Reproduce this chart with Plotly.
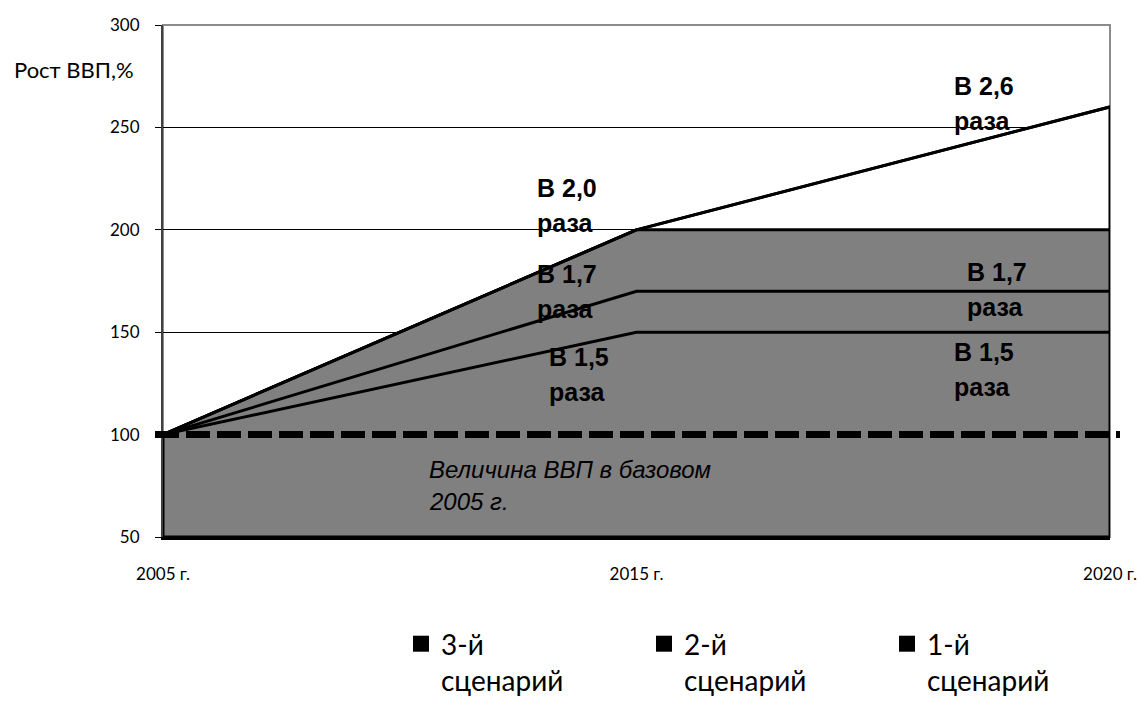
import plotly.graph_objects as go

# ---- data ----
years = ["2005 г.", "2015 г.", "2020 г."]
scenario3 = [100, 200, 260]
scenario2 = [100, 170, 170]
scenario1 = [100, 150, 150]
shaded_top = [100, 200, 200]
base_level = 100
y_ticks = [50, 100, 150, 200, 250, 300]
legend_names = ["3-й<br>сценарий", "2-й<br>сценарий", "1-й<br>сценарий"]
y_title = "Рост ВВП,%"
base_note = ["Величина ВВП в базовом", "2005 г."]

Y_MIN, Y_MAX = 50, 300

# plot-area pixel geometry (for placing free text)
L, R, T, B = 163, 1110, 25, 537
W, H = R - L, B - T


def px(x):
    return (x - L) / W


def py(y):
    return (B - y) / H


def ratio_txt(v):
    return "В " + f"{v / base_level:.1f}".replace(".", ",")


fig = go.Figure()

# scenario 3 area (white, outlined)
fig.add_trace(go.Scatter(
    x=years + [years[-1], years[0], years[0]],
    y=scenario3 + [Y_MIN, Y_MIN, scenario3[0]],
    fill="toself", fillcolor="white", mode="lines",
    line=dict(color="black", width=3), showlegend=False, hoverinfo="skip"))

# shaded gray area
fig.add_trace(go.Scatter(
    x=years + [years[-1], years[0], years[0]],
    y=shaded_top + [Y_MIN, Y_MIN, shaded_top[0]],
    fill="toself", fillcolor="#808080", mode="lines",
    line=dict(color="black", width=3), showlegend=False, hoverinfo="skip"))

# scenario lines
for s in (scenario3, scenario2, scenario1):
    fig.add_trace(go.Scatter(x=years, y=s, mode="lines",
                             line=dict(color="black", width=3),
                             showlegend=False))

# legend entries
for nm in legend_names:
    fig.add_trace(go.Scatter(x=[None], y=[None], mode="markers", name=nm,
                             marker=dict(symbol="square", size=16, color="black")))

# base-level dashed line
fig.add_shape(type="line", xref="paper", yref="y",
              x0=px(155), x1=px(1120), y0=base_level, y1=base_level,
              line=dict(color="black", width=7, dash="24px,7px"), layer="above")

# frame (gray)
fig.add_shape(type="rect", xref="paper", yref="paper", x0=0, x1=1, y0=0, y1=1,
              line=dict(color="#8c8c8c", width=2), layer="between")

# ratio labels
label_font = dict(family="Liberation Sans", size=25, color="black", weight="bold")
labels = [
    (ratio_txt(scenario3[2]), 952, 86),
    (ratio_txt(scenario3[1]), 535, 188),
    (ratio_txt(scenario2[1]), 535, 274),
    (ratio_txt(scenario1[1]), 547, 357),
    (ratio_txt(scenario2[2]), 965, 272),
    (ratio_txt(scenario1[2]), 952, 352),
]
for txt, xl, ym in labels:
    for line_txt, dy in ((txt, 0), ("раза", 35)):
        fig.add_annotation(text=line_txt, xref="paper", yref="paper",
                           x=px(xl), y=py(ym + dy), xanchor="left", yanchor="middle",
                           showarrow=False, font=label_font)

# base note (italic)
for i, t in enumerate(base_note):
    fig.add_annotation(text=f"<i>{t}</i>", xref="paper", yref="paper",
                       x=px(427), y=py(469 + 32 * i), xanchor="left", yanchor="middle",
                       showarrow=False,
                       font=dict(family="Liberation Sans", size=24, color="black"))

# y-axis title
fig.add_annotation(text=y_title, xref="paper", yref="paper", x=px(74), y=py(69),
                   xanchor="center", yanchor="middle", showarrow=False,
                   font=dict(family="Lato", size=22, color="black"))

fig.update_layout(
    width=1138, height=702,
    margin=dict(l=L, r=1138 - R, t=T, b=702 - B, autoexpand=False),
    paper_bgcolor="white", plot_bgcolor="white",
    showlegend=True,
    legend=dict(orientation="h", x=px(401), y=py(619), xanchor="left", yanchor="top",
                font=dict(family="Lato", size=28, color="black"),
                entrywidth=198, entrywidthmode="pixels", valign="top",
                bgcolor="rgba(0,0,0,0)", traceorder="normal"),
    xaxis=dict(type="category", range=[0, 2], showgrid=False, zeroline=False,
               showline=True, linecolor="black", linewidth=3, ticks="",
               ticklabelstandoff=20,
               tickfont=dict(family="Lato", size=17, color="black")),
    yaxis=dict(range=[Y_MIN, Y_MAX], tickvals=y_ticks, showgrid=True,
               gridcolor="black", gridwidth=1, zeroline=False,
               showline=True, linecolor="#404040", linewidth=2,
               ticks="outside", ticklen=6, tickcolor="black", ticklabelstandoff=12,
               tickfont=dict(family="Lato", size=17, color="black")),
)

fig.write_html("out.html")
